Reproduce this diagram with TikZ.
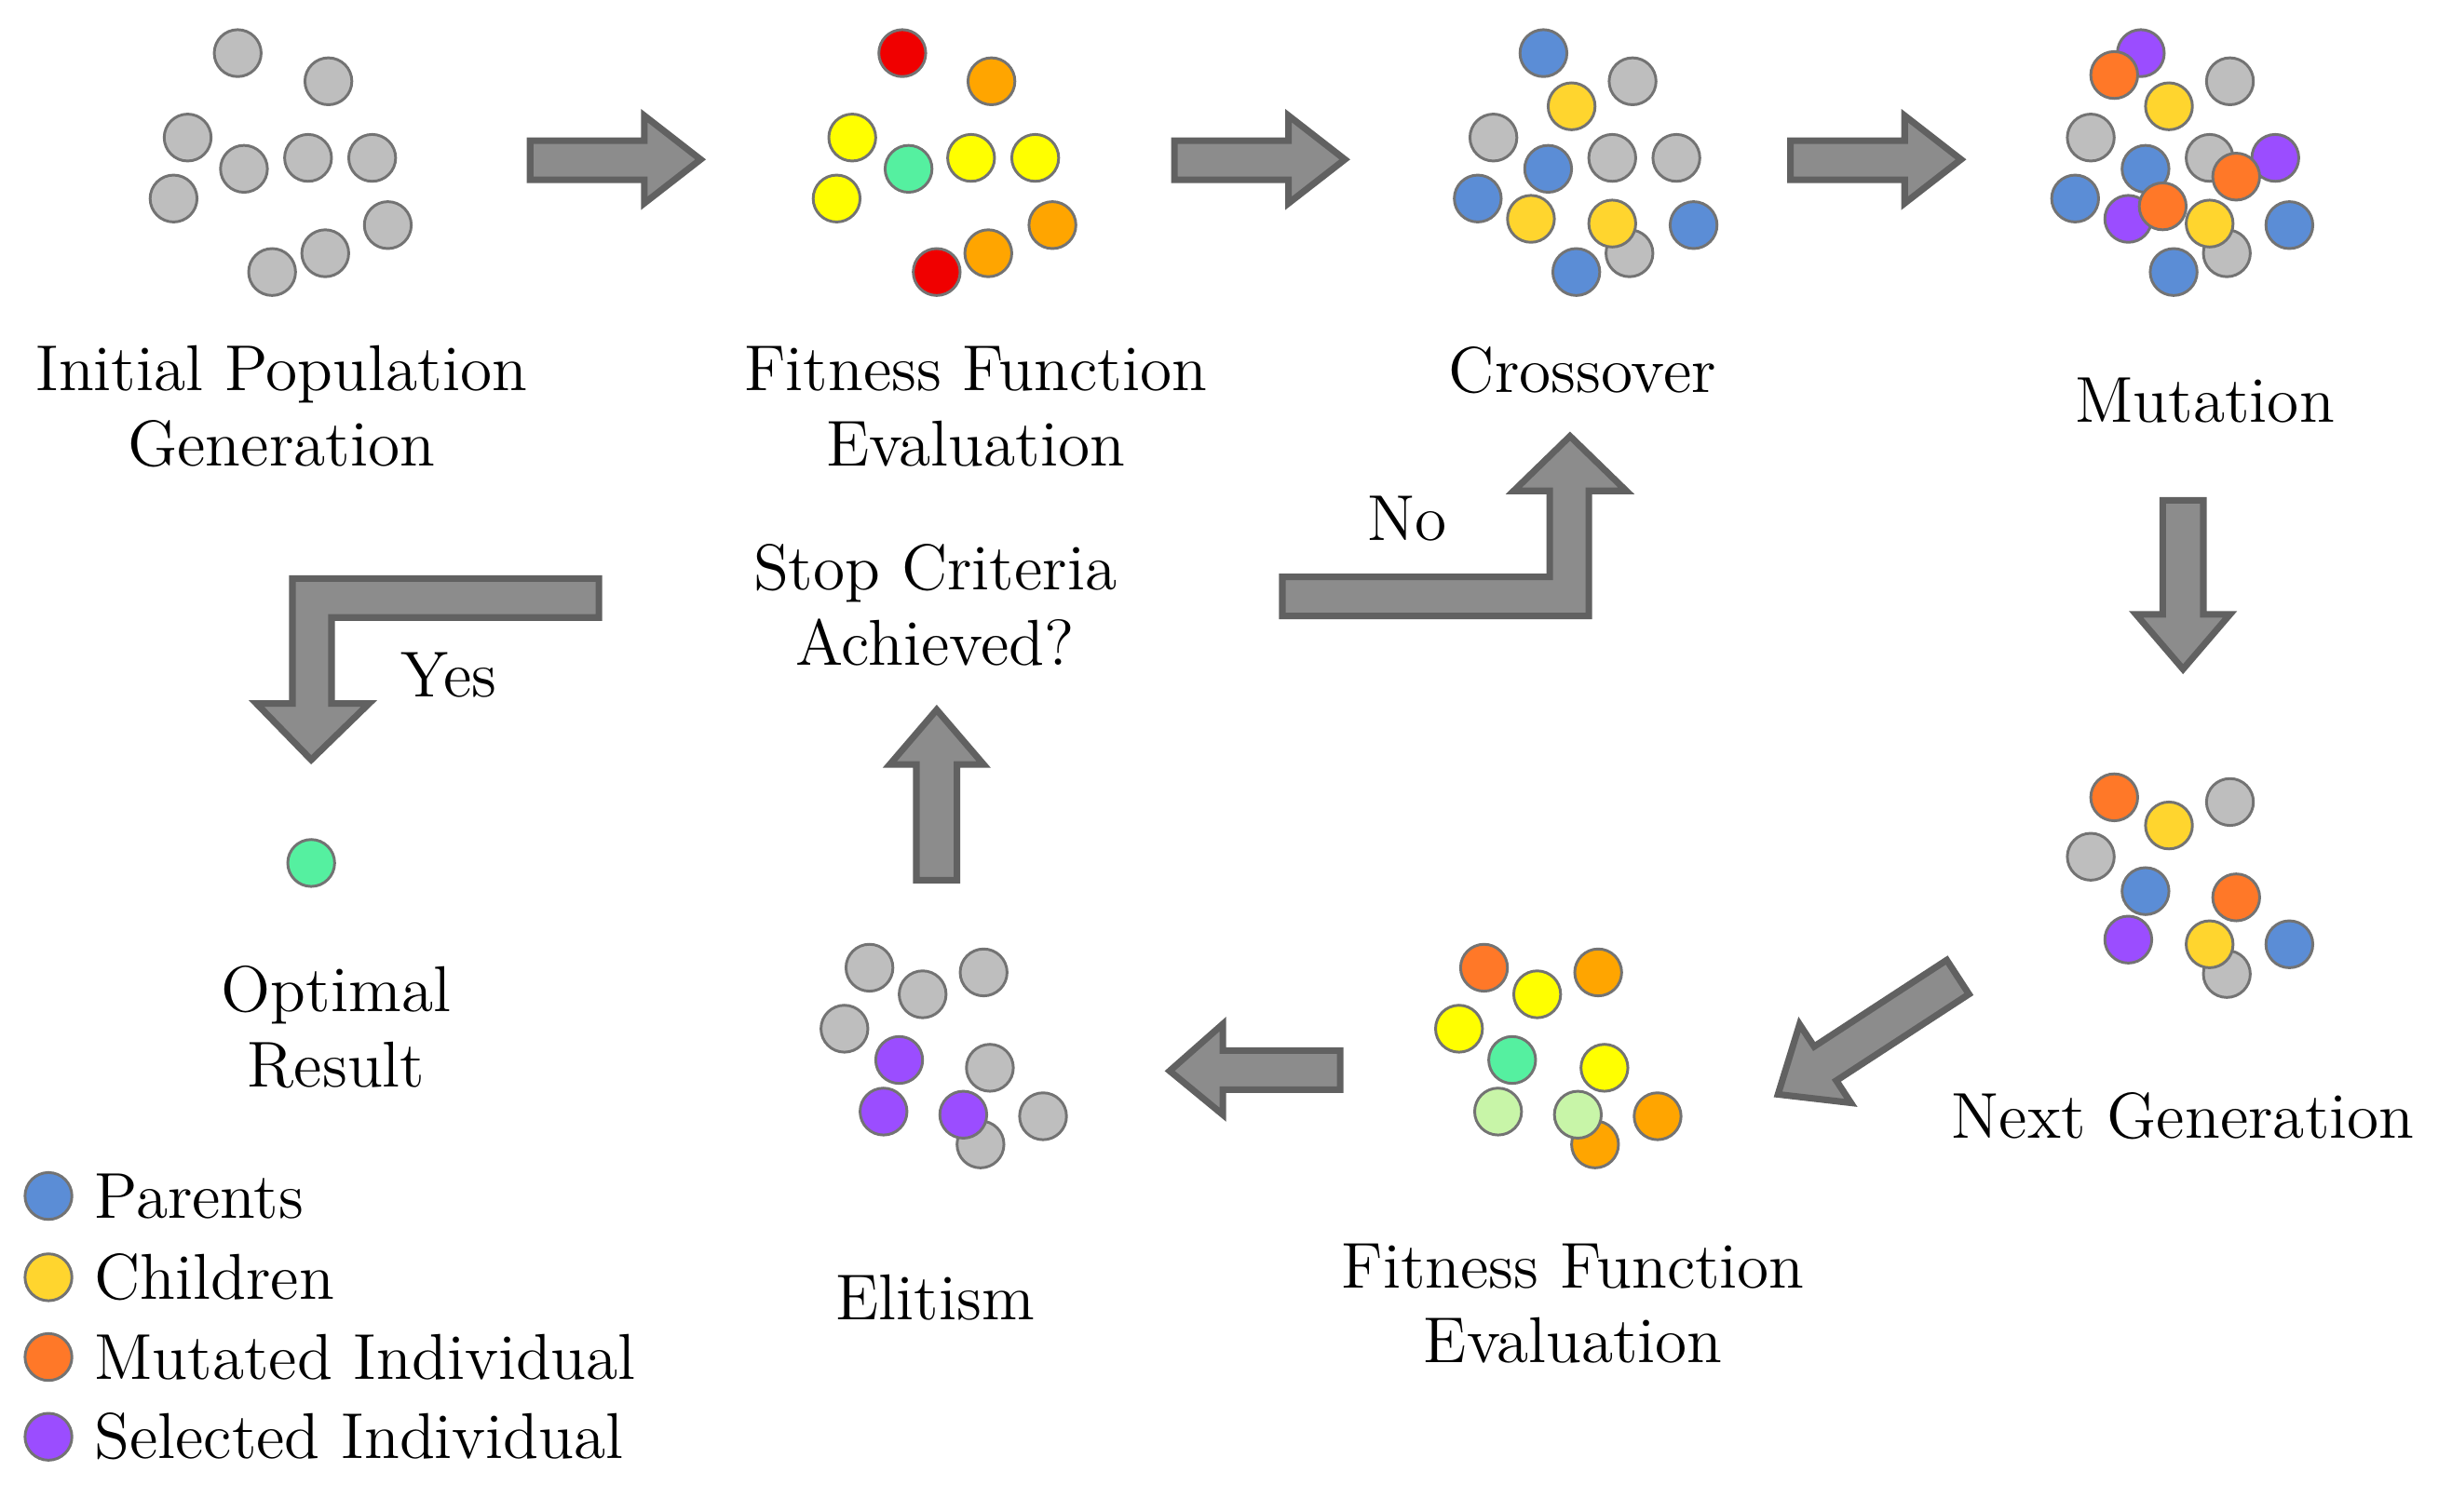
\documentclass[tikz,border=0pt]{standalone}
\begin{document}
\begin{tikzpicture}[x=0.1mm,y=-0.1mm,
  ind/.style={circle,draw=black!55,line width=0.5pt,minimum size=3mm,inner sep=0pt},
  lbl/.style={align=center,font=\fontsize{11.8}{13.6}\selectfont},
  blk/.style={fill=black!45,draw=black!62,line width=1.2pt,line join=miter}]
\definecolor{gy}{RGB}{190,190,190}
\definecolor{bl}{RGB}{91,141,214}
\definecolor{yl}{RGB}{255,213,46}
\definecolor{mo}{RGB}{255,120,40}
\definecolor{pu}{RGB}{155,77,255}
\definecolor{rd}{RGB}{240,0,0}
\definecolor{or}{RGB}{255,165,0}
\definecolor{by}{RGB}{255,255,0}
\definecolor{gr}{RGB}{85,240,160}
\definecolor{lg}{RGB}{200,245,168}
\useasboundingbox (0,0) rectangle (1568,967);
\foreach \x/\y/\c [count=\i] in {152/34/gy,210/52/gy,120/88/gy,156/108/gy,197/101/gy,238/101/gy,111/127/gy,248/144/gy,208/162/gy,174/174/gy}
  \node[ind,fill=\c] (a\i) at (\x,\y) {};
\foreach \x/\y/\c [count=\i] in {577/34/rd,634/52/or,545/88/by,581/108/gr,621/101/by,662/101/by,535/127/by,673/144/or,632/162/or,599/174/rd}
  \node[ind,fill=\c] (b\i) at (\x,\y) {};
\foreach \x/\y/\c [count=\i] in {987/34/bl,1044/52/gy,1005/68/yl,955/88/gy,990/108/bl,1031/101/gy,1072/101/gy,945/127/bl,979/140/yl,1042/162/gy,1031/143/yl,1083/144/bl,1008/174/bl}
  \node[ind,fill=\c] (c\i) at (\x,\y) {};
\foreach \x/\y/\c [count=\i] in {1369/34/pu,1352/48/mo,1387/68/yl,1426/52/gy,1337/88/gy,1372/108/bl,1413/101/gy,1455/101/pu,1430/113/mo,1327/127/bl,1361/140/pu,1383/132/mo,1424/162/gy,1413/143/yl,1464/144/bl,1390/174/bl}
  \node[ind,fill=\c] (d\i) at (\x,\y) {};
\foreach \x/\y/\c [count=\i] in {1352/510/mo,1387/528/yl,1426/513/gy,1337/548/gy,1372/570/bl,1430/574/mo,1361/601/pu,1424/623/gy,1413/604/yl,1464/604/bl}
  \node[ind,fill=\c] (e\i) at (\x,\y) {};
\foreach \x/\y/\c [count=\i] in {949/619/mo,983/636/by,1022/622/or,933/658/by,967/678/gr,1026/683/by,958/711/lg,1020/732/or,1009/713/lg,1060/714/or}
  \node[ind,fill=\c] (f\i) at (\x,\y) {};
\foreach \x/\y/\c [count=\i] in {556/619/gy,590/636/gy,629/622/gy,540/658/gy,575/678/pu,633/683/gy,565/711/pu,627/732/gy,616/713/pu,667/714/gy}
  \node[ind,fill=\c] (g\i) at (\x,\y) {};
\node[ind,fill=gr] (opt) at (199,552) {};
\foreach \y/\c/\t [count=\i] in {765/bl/Parents,817/yl/Children,868/mo/Mutated Individual,919/pu/Selected Individual}{
  \node[ind,fill=\c] (l\i) at (31,\y) {};
  \node[lbl,anchor=west] (lt\i) at (48,\y) {\t};}
\node[lbl] (t1) at (180,260) {Initial Population\\Generation};
\node[lbl] (t2) at (624,260) {Fitness Function\\Evaluation};
\node[lbl] (t3) at (1012,237) {Crossover};
\node[lbl] (t4) at (1410,256) {Mutation};
\node[lbl] (t5) at (598,387) {Stop Criteria\\Achieved?};
\node[lbl] (t6) at (900,332) {No};
\node[lbl] (t7) at (287,432) {Yes};
\node[lbl] (t8) at (215,657) {Optimal\\Result};
\node[lbl] (t9) at (1396,714) {Next Generation};
\node[lbl] (t10) at (1006,834) {Fitness Function\\Evaluation};
\node[lbl] (t11) at (598,830) {Elitism};
\foreach \s in {339,751,1145}
  \draw[blk] (\s,90) -- (\s+73,90) -- (\s+73,74) -- (\s+109,102) -- (\s+73,130) -- (\s+73,115) -- (\s,115) -- cycle;
\draw[blk] (1383,320) -- (1409,320) -- (1409,393) -- (1426,393) -- (1396,428) -- (1366,393) -- (1383,393) -- cycle;
\draw[blk] (1244.9,614.1) -- (1160.1,669.4) -- (1150.8,655.2) -- (1137,700) -- (1183.6,705.4) -- (1174.3,691.2) -- (1259.1,635.9) -- cycle;
\draw[blk] (857,672) -- (782,672) -- (782,655) -- (748,685) -- (782,713) -- (782,697) -- (857,697) -- cycle;
\draw[blk] (586,563) -- (586,489) -- (569,489) -- (599,454) -- (629,489) -- (612,489) -- (612,563) -- cycle;
\draw[blk] (820,369) -- (991,369) -- (991,314) -- (968,314) -- (1004,279) -- (1040,314) -- (1016,314) -- (1016,394) -- (820,394) -- cycle;
\draw[blk] (383,370) -- (187,370) -- (187,450) -- (164,450) -- (199,486) -- (236,450) -- (212,450) -- (212,395) -- (383,395) -- cycle;
\end{tikzpicture}
\end{document}
